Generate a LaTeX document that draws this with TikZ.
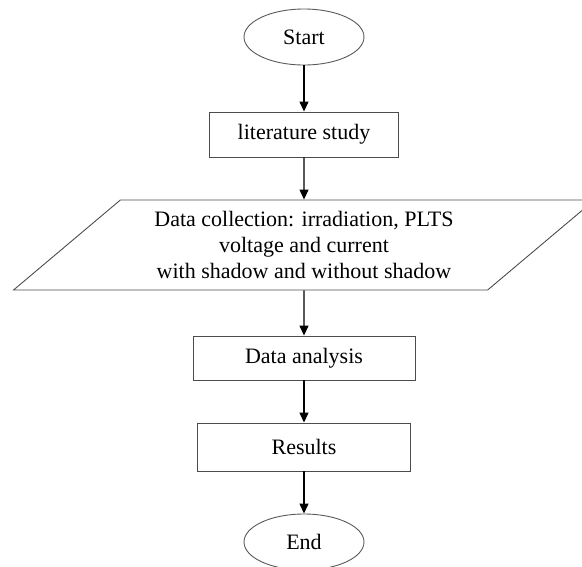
\documentclass[tikz,border=0pt]{standalone}
\usepackage{fontspec}
\setmainfont{Liberation Serif}
\usetikzlibrary{shapes.geometric,arrows.meta}
\begin{document}
\begin{tikzpicture}[x=1pt,y=-1pt,
  txt/.style={font=\fontsize{22}{26}\selectfont,align=center,inner sep=0pt},
  box/.style={txt,draw=black!70,line width=0.9pt,rectangle},
  term/.style={txt,draw=black!65,line width=0.9pt,ellipse,minimum width=120pt,minimum height=56pt},
  io/.style={txt,draw=black!70,line width=0.9pt,trapezium,trapezium left angle=37.8,trapezium right angle=142.2,trapezium stretches=true},
  arr/.style={-{Triangle[length=10pt,width=9pt]},line width=1.3pt,black}]
\useasboundingbox (0,0) rectangle (582,566);
\node[term] (start) at (304,37) {Start};
\node[box,minimum width=189pt,minimum height=45pt] (lit) at (304,134.5) {literature study};
\node[io,minimum width=583pt,minimum height=90pt] (data) at (304,245) {Data collection: irradiation, PLTS\\voltage and current\\with shadow and without shadow};
\node[box,minimum width=222pt,minimum height=44pt] (ana) at (304,358) {Data analysis};
\node[box,minimum width=213pt,minimum height=48pt] (res) at (304,447) {Results};
\node[term] (end) at (304,542) {End};
\draw[arr] (start) -- (lit);
\draw[arr] (lit) -- (data);
\draw[arr] (data) -- (ana);
\draw[arr] (ana) -- (res);
\draw[arr] (res) -- (end);
\end{tikzpicture}
\end{document}
